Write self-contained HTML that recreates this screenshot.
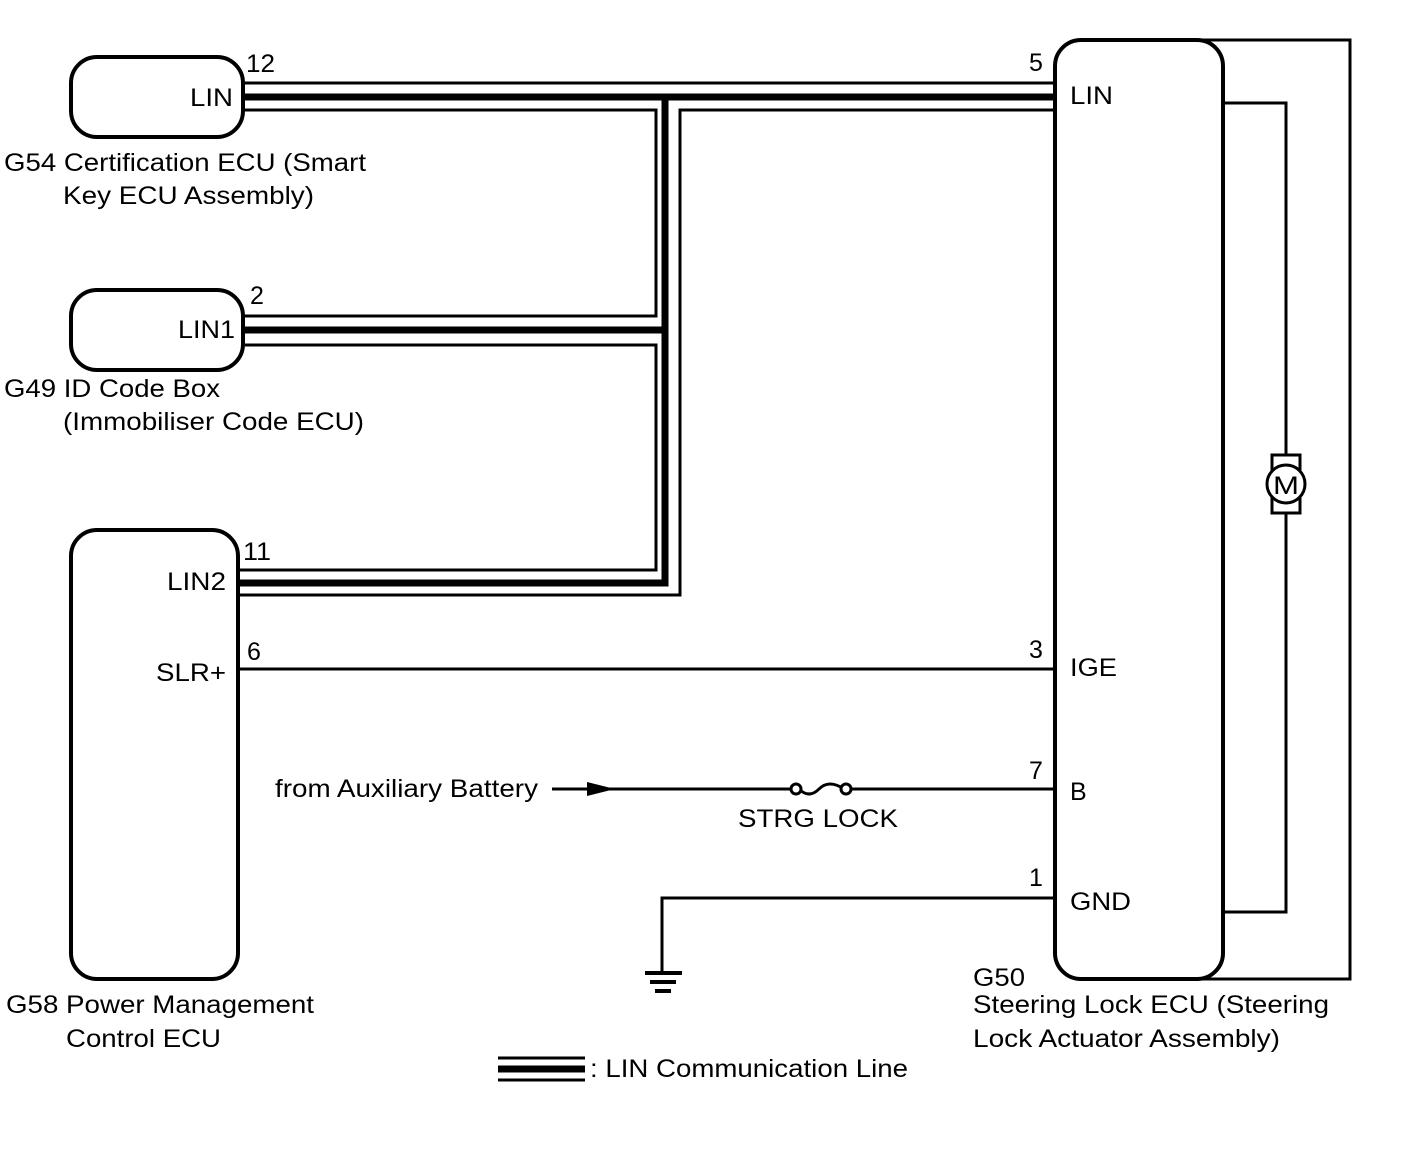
<!DOCTYPE html>
<html><head><meta charset="utf-8"><style>
html,body{margin:0;padding:0;background:#fff;width:1424px;height:1160px;overflow:hidden}
svg text{font-family:"Liberation Sans",Arial,sans-serif;font-size:25px;fill:#000}
</style></head><body>
<svg width="1424" height="1160" viewBox="0 0 1424 1160" xmlns="http://www.w3.org/2000/svg">
<g fill="none" stroke="#000" stroke-width="3">
<polyline points="1200,40 1350,40 1350,979 1200,979"/>
<polyline points="1223,103 1286,103 1286,458"/>
<polyline points="1286,510 1286,912 1223,912"/>
</g>
<g fill="#fff" stroke="#000" stroke-width="4">
<rect x="71" y="57" width="172" height="80" rx="26"/>
<rect x="71" y="290" width="172" height="80" rx="26"/>
<rect x="71" y="530" width="167" height="449" rx="26"/>
<rect x="1055" y="40" width="168" height="939" rx="26"/>
</g>
<g fill="none" stroke="#000" stroke-width="3">
<polyline points="245,83 1055,83"/>
<polyline points="245,110 656,110 656,316 245,316"/>
<polyline points="245,345 656,345 656,570 240,570"/>
<polyline points="1055,110 680,110 680,595 240,595"/>
<polyline points="240,669 1055,669"/>
<polyline points="552,789 795,789"/>
<polyline points="849,789 1055,789"/>
<polyline points="1055,898 662,898 662,972"/>
<path d="M799,789 q10,10 20,0 q10,-10 25,0"/>
</g>
<g fill="none" stroke="#000" stroke-width="7">
<polyline points="245,97 1055,97"/>
<polyline points="665,97 665,583 240,583"/>
<polyline points="245,330 665,330"/>
</g>
<circle cx="796" cy="789" r="5" fill="#fff" stroke="#000" stroke-width="3"/>
<circle cx="846" cy="789" r="5" fill="#fff" stroke="#000" stroke-width="3"/>
<polygon points="587,782 587,796 615,789" fill="#000"/>
<g stroke="#000" stroke-width="4">
<line x1="645" y1="973" x2="682" y2="973"/>
<line x1="650" y1="982" x2="676" y2="982"/>
<line x1="655" y1="991" x2="671" y2="991"/>
</g>
<g fill="#fff" stroke="#000" stroke-width="3">
<rect x="1272" y="455" width="28" height="58"/>
<circle cx="1286" cy="484" r="19"/>
</g>
<text x="1273" y="494" style="font-size:25px" textLength="26" lengthAdjust="spacingAndGlyphs">M</text>
<g stroke="#000">
<line x1="498" y1="1058" x2="585" y2="1058" stroke-width="3"/>
<line x1="498" y1="1069" x2="585" y2="1069" stroke-width="7"/>
<line x1="498" y1="1080" x2="585" y2="1080" stroke-width="3"/>
</g>
<g lengthAdjust="spacingAndGlyphs">
<text x="590" y="1077" textLength="318" lengthAdjust="spacingAndGlyphs">: LIN Communication Line</text>
<text x="190" y="106" textLength="43" lengthAdjust="spacingAndGlyphs">LIN</text>
<text x="246" y="72" textLength="29" lengthAdjust="spacingAndGlyphs">12</text>
<text x="4" y="171" textLength="362" lengthAdjust="spacingAndGlyphs">G54 Certification ECU (Smart</text>
<text x="63" y="204" textLength="251" lengthAdjust="spacingAndGlyphs">Key ECU Assembly)</text>
<text x="178" y="338" textLength="57" lengthAdjust="spacingAndGlyphs">LIN1</text>
<text x="250" y="304">2</text>
<text x="4" y="397" textLength="216" lengthAdjust="spacingAndGlyphs">G49 ID Code Box</text>
<text x="63" y="430" textLength="301" lengthAdjust="spacingAndGlyphs">(Immobiliser Code ECU)</text>
<text x="167" y="590" textLength="59" lengthAdjust="spacingAndGlyphs">LIN2</text>
<text x="243" y="560" textLength="28" lengthAdjust="spacingAndGlyphs">11</text>
<text x="156" y="681" textLength="70" lengthAdjust="spacingAndGlyphs">SLR+</text>
<text x="247" y="660">6</text>
<text x="6" y="1013" textLength="308" lengthAdjust="spacingAndGlyphs">G58 Power Management</text>
<text x="66" y="1047" textLength="155" lengthAdjust="spacingAndGlyphs">Control ECU</text>
<text x="275" y="797" textLength="263" lengthAdjust="spacingAndGlyphs">from Auxiliary Battery</text>
<text x="738" y="827" textLength="160" lengthAdjust="spacingAndGlyphs">STRG LOCK</text>
<text x="1029" y="71">5</text>
<text x="1070" y="104" textLength="43" lengthAdjust="spacingAndGlyphs">LIN</text>
<text x="1029" y="658">3</text>
<text x="1070" y="676" textLength="47" lengthAdjust="spacingAndGlyphs">IGE</text>
<text x="1029" y="779">7</text>
<text x="1070" y="800">B</text>
<text x="1029" y="886">1</text>
<text x="1070" y="910" textLength="61" lengthAdjust="spacingAndGlyphs">GND</text>
<text x="973" y="986" textLength="52" lengthAdjust="spacingAndGlyphs">G50</text>
<text x="973" y="1013" textLength="356" lengthAdjust="spacingAndGlyphs">Steering Lock ECU (Steering</text>
<text x="973" y="1047" textLength="307" lengthAdjust="spacingAndGlyphs">Lock Actuator Assembly)</text>
</g>
</svg>
</body></html>
